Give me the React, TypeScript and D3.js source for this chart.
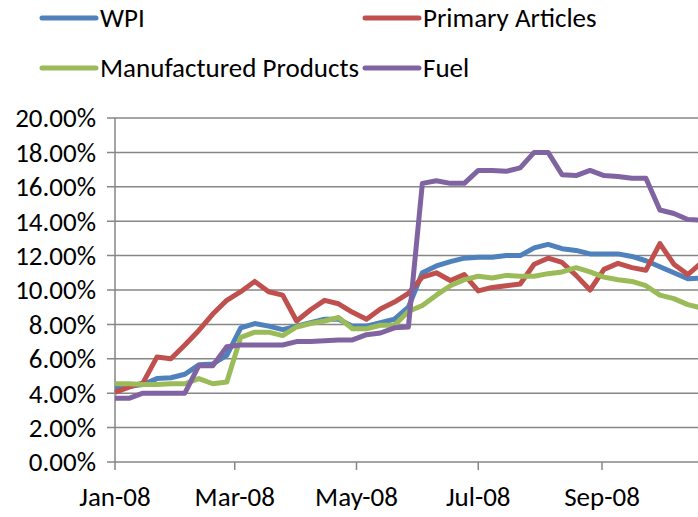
import * as d3 from "d3";

// weekly observations (week ending Saturday), 2008
const weeks = [
  "2008-01-05", "2008-01-12", "2008-01-19", "2008-01-26",
  "2008-02-02", "2008-02-09", "2008-02-16", "2008-02-23",
  "2008-03-01", "2008-03-08", "2008-03-15", "2008-03-22", "2008-03-29",
  "2008-04-05", "2008-04-12", "2008-04-19", "2008-04-26",
  "2008-05-03", "2008-05-10", "2008-05-17", "2008-05-24", "2008-05-31",
  "2008-06-07", "2008-06-14", "2008-06-21", "2008-06-28",
  "2008-07-05", "2008-07-12", "2008-07-19", "2008-07-26",
  "2008-08-02", "2008-08-09", "2008-08-16", "2008-08-23", "2008-08-30",
  "2008-09-06", "2008-09-13", "2008-09-20", "2008-09-27",
  "2008-10-04", "2008-10-11", "2008-10-18", "2008-10-25",
];

const wpi = [
  4.3, 4.4, 4.5, 4.85, 4.9, 5.1, 5.65, 5.7, 6.2, 7.8, 8.05, 7.9, 7.7,
  7.9, 8.1, 8.3, 8.3, 7.9, 7.9, 8.1, 8.3, 9.0, 11.0, 11.4, 11.65, 11.85,
  11.9, 11.9, 12.0, 12.0, 12.45, 12.65, 12.4, 12.3, 12.1, 12.1, 12.1,
  11.95, 11.7, 11.35, 11.0, 10.65, 10.7,
];

const primary = [
  4.05, 4.35, 4.6, 6.1, 6.0, 6.8, 7.65, 8.6, 9.4, 9.9, 10.5, 9.9, 9.7,
  8.2, 8.85, 9.4, 9.2, 8.7, 8.3, 8.9, 9.3, 9.8, 10.75, 11.0, 10.55, 10.9,
  9.95, 10.15, 10.25, 10.35, 11.5, 11.85, 11.6, 10.85, 10.0, 11.2, 11.55,
  11.3, 11.15, 12.7, 11.5, 10.9, 11.6,
];

const manufactured = [
  4.55, 4.55, 4.5, 4.5, 4.55, 4.55, 4.85, 4.55, 4.65, 7.25, 7.55, 7.55, 7.35,
  7.85, 8.05, 8.2, 8.4, 7.75, 7.75, 7.95, 7.95, 8.75, 9.1, 9.7, 10.25, 10.6,
  10.8, 10.7, 10.85, 10.8, 10.8, 10.95, 11.05, 11.3, 11.05, 10.75, 10.6,
  10.5, 10.25, 9.7, 9.5, 9.15, 8.95,
];

const fuel = [
  3.7, 3.7, 4.0, 4.0, 4.0, 4.0, 5.6, 5.6, 6.7, 6.8, 6.8, 6.8, 6.8,
  7.0, 7.0, 7.05, 7.1, 7.1, 7.4, 7.5, 7.8, 7.85, 16.2, 16.35, 16.2, 16.2,
  16.95, 16.95, 16.9, 17.1, 18.0, 18.0, 16.7, 16.65, 16.95, 16.65, 16.6,
  16.5, 16.5, 14.65, 14.45, 14.1, 14.05,
];

const seriesNames = ["WPI", "Primary Articles", "Manufactured Products", "Fuel"];
const seriesColors = ["#4F81BD", "#C0504D", "#9BBB59", "#8064A2"];
const seriesValues = [wpi, primary, manufactured, fuel];

const xTickDates = ["2008-01-05", "2008-03-05", "2008-05-05", "2008-07-05", "2008-09-05"];
const yTicks = [0, 2, 4, 6, 8, 10, 12, 14, 16, 18, 20];

const W = 698;
const H = 517;
const FONT = "Carlito, Calibri, Lato, sans-serif";
const FS = 27;

const parse = d3.timeParse("%Y-%m-%d");

export default function App() {
  const dates = weeks.map((s) => parse(s) as Date);
  const tickDates = xTickDates.map((s) => parse(s) as Date);

  // time axis, extended past the right edge of the picture
  const x = d3.scaleTime().domain([tickDates[0], tickDates[4]]).range([115, 602]);
  const y = d3.scaleLinear().domain([0, 20]).range([462, 118]);

  const line = d3
    .line<number>()
    .x((_, i) => x(dates[i]))
    .y((d) => y(d));

  const fmtX = d3.timeFormat("%b-%y");
  const fmtY = (v: number) => d3.format(".2f")(v) + "%";
  const axisColor = "#868686";

  const legend = [
    { lx: 42, ly: 18 },
    { lx: 365, ly: 18 },
    { lx: 42, ly: 68 },
    { lx: 365, ly: 68 },
  ];

  return (
    <svg
      width={W}
      height={H}
      style={{ position: "absolute", left: 0, top: 0, background: "#fff" }}
      fontFamily={FONT}
    >
      {/* gridlines + y labels */}
      {yTicks.map((t) => (
        <g key={t}>
          <line x1={107} x2={W} y1={y(t)} y2={y(t)} stroke={axisColor} strokeWidth={1.5} />
          <text x={96} y={y(t)} dy="0.35em" textAnchor="end" fontSize={FS} fill="#000">
            {fmtY(t)}
          </text>
        </g>
      ))}
      <line x1={115} x2={115} y1={y(20)} y2={y(0)} stroke={axisColor} strokeWidth={1.5} />

      {/* x ticks + labels */}
      {tickDates.map((d, i) => (
        <g key={i}>
          <line x1={x(d)} x2={x(d)} y1={y(0)} y2={y(0) + 8} stroke={axisColor} strokeWidth={1.5} />
          <text x={x(d)} y={506} textAnchor="middle" fontSize={FS} fill="#000">
            {fmtX(d)}
          </text>
        </g>
      ))}

      {/* series */}
      {seriesValues.map((vals, i) => (
        <path
          key={seriesNames[i]}
          d={line(vals) || ""}
          fill="none"
          stroke={seriesColors[i]}
          strokeWidth={5}
          strokeLinejoin="round"
        />
      ))}

      {/* legend */}
      {seriesNames.map((name, i) => (
        <g key={name}>
          <line
            x1={legend[i].lx}
            x2={legend[i].lx + 54}
            y1={legend[i].ly}
            y2={legend[i].ly}
            stroke={seriesColors[i]}
            strokeWidth={5}
            strokeLinecap="round"
          />
          <text x={legend[i].lx + 58} y={legend[i].ly} dy="0.35em" fontSize={FS} fill="#000">
            {name}
          </text>
        </g>
      ))}
    </svg>
  );
}
